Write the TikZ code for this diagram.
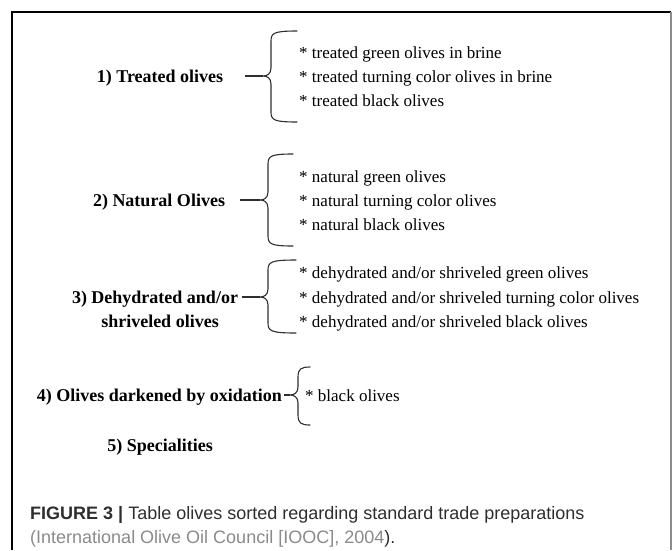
\documentclass[tikz,border=0pt]{standalone}
\usepackage{fontspec}
\setmainfont{Liberation Serif}
\newfontfamily\captionsans{Liberation Sans}
\usepackage{tikz}
\usetikzlibrary{calc}
\definecolor{inkgray}{HTML}{2E2E2E}
\definecolor{citegray}{HTML}{8A8A8A}
\definecolor{framegray}{HTML}{8C8C8C}
\tikzset{
    grouplabel/.style={font=\fontsize{18}{22}\selectfont\bfseries, inner sep=0pt},
    olivetype/.style={font=\fontsize{17}{22}\selectfont, anchor=base west, inner sep=0pt},
    captext/.style={font=\captionsans\fontsize{18}{24}\selectfont, text=inkgray, anchor=base west, inner sep=0pt},
    bond/.style={draw=inkgray, line width=1.1pt},
    bracket/.style={draw=inkgray, line width=1.1pt, line cap=round},
    frame/.style={line width=1.4pt},
}
% curly bracket: cusp, rise, drop, tip length
\newcommand{\olivebrace}[4]{%
    \draw[bracket] ($(#1)+(8+#4,-#2)$) .. controls ($(#1)+(11,-#2)$) and ($(#1)+(8,-#2+2)$) .. ($(#1)+(8,-#2+10)$)
        -- ($(#1)+(8,-8)$) .. controls ($(#1)+(8,-2)$) and ($(#1)+(4,0)$) .. (#1)
        .. controls ($(#1)+(4,0)$) and ($(#1)+(8,2)$) .. ($(#1)+(8,8)$)
        -- ($(#1)+(8,#3-10)$) .. controls ($(#1)+(8,#3-2)$) and ($(#1)+(11,#3)$) .. ($(#1)+(8+#4,#3)$);%
}

\begin{document}
\begin{tikzpicture}[x=1pt, y=-1pt]
    \useasboundingbox (0,0) rectangle (672,550);

    % Frame
    \draw[frame] (12,550) -- (12,12) -- (671,12);
    \draw[frame, framegray] (671,12) -- (671,550);

    % Treated olives
    \node[grouplabel, anchor=base] (l1) at (160,82) {1) Treated olives};
    \coordinate (s1) at (245,76);
    \coordinate (c1) at (263,76);
    \draw[bond] (s1) -- (c1);
    \olivebrace{c1}{45}{46}{26}
    \node[olivetype] (i11) at (299,58) {* treated green olives in brine};
    \node[olivetype] (i12) at (299,82) {* treated turning color olives in brine};
    \node[olivetype] (i13) at (299,106) {* treated black olives};

    % Natural olives
    \node[grouplabel, anchor=base] (l2) at (159,206) {2) Natural Olives};
    \coordinate (s2) at (240,200);
    \coordinate (c2) at (260,200);
    \draw[bond] (s2) -- (c2);
    \olivebrace{c2}{46}{46}{25}
    \node[olivetype] (i21) at (299,182) {* natural green olives};
    \node[olivetype] (i22) at (299,206) {* natural turning color olives};
    \node[olivetype] (i23) at (299,230) {* natural black olives};

    % Dehydrated and/or shriveled olives
    \node[grouplabel, anchor=base] (l3) at (155,303) {3) Dehydrated and/or};
    \node[grouplabel, anchor=base] (l3b) at (160,327) {shriveled olives};
    \coordinate (s3) at (242,297);
    \coordinate (c3) at (260,297);
    \draw[bond] (s3) -- (c3);
    \olivebrace{c3}{37}{36}{28}
    \node[olivetype] (i31) at (299,278) {* dehydrated and/or shriveled green olives};
    \node[olivetype] (i32) at (299,303) {* dehydrated and/or shriveled turning color olives};
    \node[olivetype] (i33) at (299,327) {* dehydrated and/or shriveled black olives};

    % Olives darkened by oxidation
    \node[grouplabel, anchor=base east] (l4) at (282,401) {4) Olives darkened by oxidation};
    \coordinate (s4) at (284,395);
    \coordinate (c4) at (290,395);
    \draw[bond] (s4) -- (c4);
    \olivebrace{c4}{28}{30}{12}
    \node[olivetype] (i41) at (305,401) {* black olives};

    % Specialities
    \node[grouplabel, anchor=base] (l5) at (160,451) {5) Specialities};

    % Caption
    \node[captext] (cap1) at (30,519) {\textbf{FIGURE 3 |} Table olives sorted regarding standard trade preparations};
    \node[captext] (cap2) at (30,543) {{\color{citegray}(International Olive Oil Council [IOOC], 2004}).};
\end{tikzpicture}
\end{document}
